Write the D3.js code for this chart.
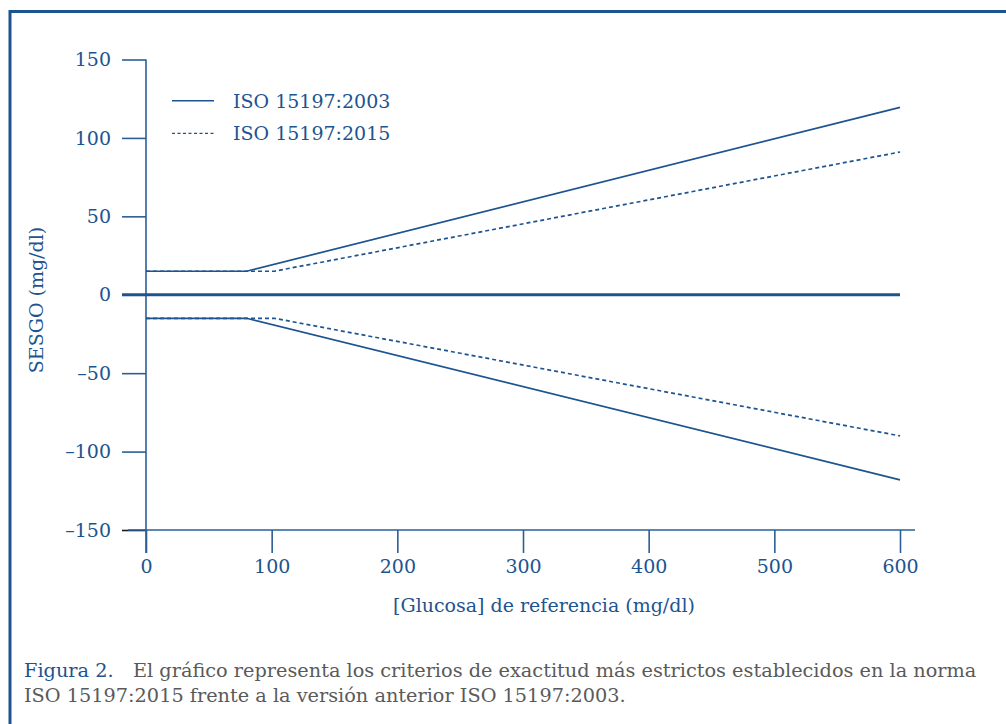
<!DOCTYPE html>
<html>
<head>
<meta charset="utf-8">
<script src="https://cdnjs.cloudflare.com/ajax/libs/d3/7.8.5/d3.min.js"></script>
<style>
body { margin: 0; background: #fff; }
svg { display: block; font-family: "DejaVu Serif", serif; }
</style>
</head>
<body>
<div id="chart-area"></div>
<script>
// ** Data **
var glucose2003 = [0, 80, 600];
var upper2003 = [15, 15, 119.5];
var lower2003 = [-15, -15, -118];

var glucose2015 = [0, 102, 600];
var upper2015 = [15, 15, 91];
var lower2015 = [-15, -15, -90];

var xTicks = [0, 100, 200, 300, 400, 500, 600];
var yTicks = [150, 100, 50, 0, -50, -100, -150];

var legendLabels = ["ISO 15197:2003", "ISO 15197:2015"];

// ** Colours **
var blue = "#1d5490";
var axisBlue = "#2b5f95";
var grey = "#5a5a5a";

var W = 1006, H = 724;

var svg = d3.select("#chart-area")
	.append("svg")
	.attr("width", W)
	.attr("height", H);

// Frame (left and top edges)
svg.append("path")
	.attr("d", "M10,724 L10,11.5 L1006,11.5")
	.attr("fill", "none")
	.attr("stroke", blue)
	.attr("stroke-width", 3);

// Scales
var x = d3.scaleLinear()
	.domain([0, 600])
	.range([146, 900]);
var y = d3.scaleLinear()
	.domain([-150, 150])
	.range([530, 59.5]);

// Y Axis
var yAxisCall = d3.axisLeft(y)
	.tickValues(yTicks)
	.tickSize(24)
	.tickPadding(11)
	.tickFormat(function(d){ return d < 0 ? "\u2013" + Math.abs(d) : d; });
var yAxis = svg.append("g")
	.attr("transform", "translate(" + x(0) + ",0)")
	.call(yAxisCall);
yAxis.select(".domain").remove();
yAxis.append("line")
	.attr("y1", y(150))
	.attr("y2", y(-150) + 23)
	.attr("stroke", axisBlue)
	.attr("stroke-width", 1.6);

// X Axis
var xAxisCall = d3.axisBottom(x)
	.tickValues(xTicks)
	.tickSize(23)
	.tickPadding(7);
var xAxis = svg.append("g")
	.attr("transform", "translate(0," + y(-150) + ")")
	.call(xAxisCall);
xAxis.select(".domain").remove();
xAxis.append("line")
	.attr("x1", 128)
	.attr("x2", 915)
	.attr("stroke", axisBlue)
	.attr("stroke-width", 1.6);

[yAxis, xAxis].forEach(function(ax){
	ax.selectAll(".tick line")
		.attr("stroke", axisBlue)
		.attr("stroke-width", 1.6);
	ax.selectAll(".tick text")
		.attr("fill", blue)
		.attr("font-family", "DejaVu Serif")
		.attr("font-size", 19);
});

// -150 tick is drawn darker in the original
yAxis.selectAll(".tick")
	.filter(function(d){ return d == -150; })
	.select("line")
	.attr("stroke", "#1a1a1a");

// Zero line
svg.append("line")
	.attr("x1", 122)
	.attr("x2", x(600))
	.attr("y1", y(0))
	.attr("y2", y(0))
	.attr("stroke", blue)
	.attr("stroke-width", 3);

// Lines
function series(xs, ys){
	return xs.map(function(v, i){ return [v, ys[i]]; });
}
var line = d3.line()
	.x(function(d){ return x(d[0]); })
	.y(function(d){ return y(d[1]); });

var lines = [
	{ data: series(glucose2015, upper2015), dash: "4,3" },
	{ data: series(glucose2015, lower2015), dash: "4,3" },
	{ data: series(glucose2003, upper2003), dash: null },
	{ data: series(glucose2003, lower2003), dash: null }
];
lines.forEach(function(l){
	svg.append("path")
		.attr("d", line(l.data))
		.attr("fill", "none")
		.attr("stroke", blue)
		.attr("stroke-width", 1.7)
		.attr("stroke-dasharray", l.dash);
});

// ** Legend **
legendLabels.forEach(function(label, i){
	var row = svg.append("g")
		.attr("transform", "translate(172," + (100.7 + i * 32.6) + ")");
	row.append("line")
		.attr("x1", 0)
		.attr("x2", 42)
		.attr("stroke", blue)
		.attr("stroke-width", i == 0 ? 1.5 : 1.2)
		.attr("stroke-dasharray", i == 0 ? null : "3,2.5");
	row.append("text")
		.attr("x", 61)
		.attr("y", 7)
		.attr("fill", blue)
		.attr("font-size", 19)
		.text(label);
});

// Axis titles
svg.append("text")
	.attr("x", 544)
	.attr("y", 612)
	.attr("text-anchor", "middle")
	.attr("fill", blue)
	.attr("font-size", 19)
	.text("[Glucosa] de referencia (mg/dl)");
svg.append("text")
	.attr("transform", "translate(43,300) rotate(-90)")
	.attr("text-anchor", "middle")
	.attr("fill", blue)
	.attr("font-size", 19)
	.text("SESGO (mg/dl)");

// Caption
var cap1 = svg.append("text")
	.attr("x", 24)
	.attr("y", 677)
	.attr("font-size", 19.3);
cap1.append("tspan")
	.attr("fill", blue)
	.text("Figura 2.");
cap1.append("tspan")
	.attr("x", 133)
	.attr("fill", grey)
	.text("El gráfico representa los criterios de exactitud más estrictos establecidos en la norma");
svg.append("text")
	.attr("x", 24)
	.attr("y", 702)
	.attr("font-size", 19.3)
	.attr("fill", grey)
	.text("ISO 15197:2015 frente a la versión anterior ISO 15197:2003.");
</script>
</body>
</html>
